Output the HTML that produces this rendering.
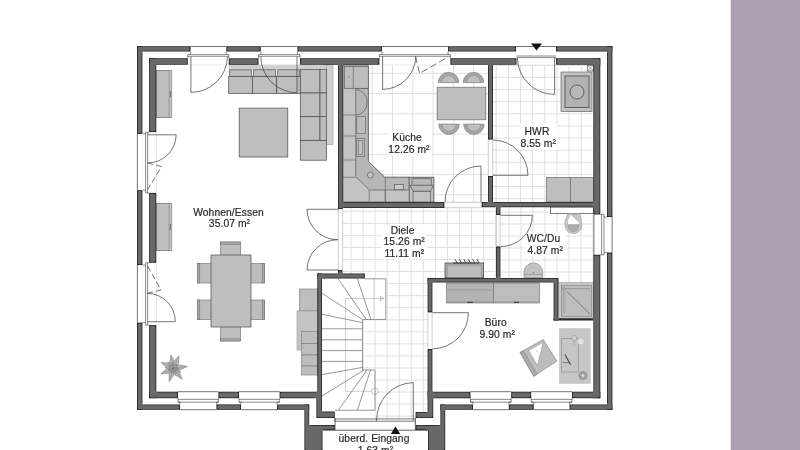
<!DOCTYPE html>
<html><head><meta charset="utf-8"><title>Grundriss</title>
<style>
html,body{margin:0;padding:0;background:#fff;}
body{width:800px;height:450px;overflow:hidden;font-family:"Liberation Sans",sans-serif;}
svg{display:block;position:absolute;left:0;top:0;}
</style></head><body>
<svg width="800" height="450" viewBox="0 0 800 450">
<rect x="0" y="0" width="800" height="450" fill="#ffffff"/>
<rect x="730.7" y="0" width="69.3" height="450" fill="#ada0b5"/>
<clipPath id="ck"><polygon points="343.00,65.00 488.00,65.00 488.00,202.00 343.00,202.00"/></clipPath>
<g clip-path="url(#ck)" stroke="#dcdcdc" stroke-width="0.9">
<line x1="351.90" y1="65" x2="351.90" y2="203"/>
<line x1="372.20" y1="65" x2="372.20" y2="203"/>
<line x1="392.50" y1="65" x2="392.50" y2="203"/>
<line x1="412.80" y1="65" x2="412.80" y2="203"/>
<line x1="433.10" y1="65" x2="433.10" y2="203"/>
<line x1="453.40" y1="65" x2="453.40" y2="203"/>
<line x1="473.70" y1="65" x2="473.70" y2="203"/>
<line x1="343" y1="73.30" x2="488" y2="73.30"/>
<line x1="343" y1="93.55" x2="488" y2="93.55"/>
<line x1="343" y1="113.80" x2="488" y2="113.80"/>
<line x1="343" y1="134.05" x2="488" y2="134.05"/>
<line x1="343" y1="154.30" x2="488" y2="154.30"/>
<line x1="343" y1="174.55" x2="488" y2="174.55"/>
<line x1="343" y1="194.80" x2="488" y2="194.80"/>
</g>
<clipPath id="ch"><polygon points="493.00,65.00 594.00,65.00 594.00,202.00 493.00,202.00"/></clipPath>
<g clip-path="url(#ch)" stroke="#dcdcdc" stroke-width="0.9">
<line x1="496.20" y1="65" x2="496.20" y2="203"/>
<line x1="508.35" y1="65" x2="508.35" y2="203"/>
<line x1="520.50" y1="65" x2="520.50" y2="203"/>
<line x1="532.65" y1="65" x2="532.65" y2="203"/>
<line x1="544.80" y1="65" x2="544.80" y2="203"/>
<line x1="556.95" y1="65" x2="556.95" y2="203"/>
<line x1="569.10" y1="65" x2="569.10" y2="203"/>
<line x1="581.25" y1="65" x2="581.25" y2="203"/>
<line x1="593.40" y1="65" x2="593.40" y2="203"/>
<line x1="493" y1="65.30" x2="594" y2="65.30"/>
<line x1="493" y1="77.42" x2="594" y2="77.42"/>
<line x1="493" y1="89.54" x2="594" y2="89.54"/>
<line x1="493" y1="101.66" x2="594" y2="101.66"/>
<line x1="493" y1="113.78" x2="594" y2="113.78"/>
<line x1="493" y1="125.90" x2="594" y2="125.90"/>
<line x1="493" y1="138.02" x2="594" y2="138.02"/>
<line x1="493" y1="150.14" x2="594" y2="150.14"/>
<line x1="493" y1="162.26" x2="594" y2="162.26"/>
<line x1="493" y1="174.38" x2="594" y2="174.38"/>
<line x1="493" y1="186.50" x2="594" y2="186.50"/>
<line x1="493" y1="198.62" x2="594" y2="198.62"/>
</g>
<clipPath id="cd"><polygon points="343.00,208.00 496.00,208.00 496.00,278.00 428.00,278.00 428.00,412.00 415.60,412.00 415.60,418.50 334.80,418.50 334.80,411.60 322.00,411.60 322.00,278.60 343.00,278.60"/></clipPath>
<g clip-path="url(#cd)" stroke="#dcdcdc" stroke-width="0.9">
<line x1="326.90" y1="208" x2="326.90" y2="419"/>
<line x1="338.95" y1="208" x2="338.95" y2="419"/>
<line x1="351.00" y1="208" x2="351.00" y2="419"/>
<line x1="363.05" y1="208" x2="363.05" y2="419"/>
<line x1="375.10" y1="208" x2="375.10" y2="419"/>
<line x1="387.15" y1="208" x2="387.15" y2="419"/>
<line x1="399.20" y1="208" x2="399.20" y2="419"/>
<line x1="411.25" y1="208" x2="411.25" y2="419"/>
<line x1="423.30" y1="208" x2="423.30" y2="419"/>
<line x1="435.35" y1="208" x2="435.35" y2="419"/>
<line x1="447.40" y1="208" x2="447.40" y2="419"/>
<line x1="459.45" y1="208" x2="459.45" y2="419"/>
<line x1="471.50" y1="208" x2="471.50" y2="419"/>
<line x1="483.55" y1="208" x2="483.55" y2="419"/>
<line x1="495.60" y1="208" x2="495.60" y2="419"/>
<line x1="322" y1="211.30" x2="497" y2="211.30"/>
<line x1="322" y1="223.35" x2="497" y2="223.35"/>
<line x1="322" y1="235.40" x2="497" y2="235.40"/>
<line x1="322" y1="247.45" x2="497" y2="247.45"/>
<line x1="322" y1="259.50" x2="497" y2="259.50"/>
<line x1="322" y1="271.55" x2="497" y2="271.55"/>
<line x1="322" y1="283.60" x2="497" y2="283.60"/>
<line x1="322" y1="295.65" x2="497" y2="295.65"/>
<line x1="322" y1="307.70" x2="497" y2="307.70"/>
<line x1="322" y1="319.75" x2="497" y2="319.75"/>
<line x1="322" y1="331.80" x2="497" y2="331.80"/>
<line x1="322" y1="343.85" x2="497" y2="343.85"/>
<line x1="322" y1="355.90" x2="497" y2="355.90"/>
<line x1="322" y1="367.95" x2="497" y2="367.95"/>
<line x1="322" y1="380.00" x2="497" y2="380.00"/>
<line x1="322" y1="392.05" x2="497" y2="392.05"/>
<line x1="322" y1="404.10" x2="497" y2="404.10"/>
<line x1="322" y1="416.15" x2="497" y2="416.15"/>
</g>
<clipPath id="cw"><polygon points="500.40,207.00 594.00,207.00 594.00,283.00 558.30,283.00 558.30,278.00 500.40,278.00"/></clipPath>
<g clip-path="url(#cw)" stroke="#dcdcdc" stroke-width="0.9">
<line x1="509.00" y1="207" x2="509.00" y2="284"/>
<line x1="521.00" y1="207" x2="521.00" y2="284"/>
<line x1="533.00" y1="207" x2="533.00" y2="284"/>
<line x1="545.00" y1="207" x2="545.00" y2="284"/>
<line x1="557.00" y1="207" x2="557.00" y2="284"/>
<line x1="569.00" y1="207" x2="569.00" y2="284"/>
<line x1="581.00" y1="207" x2="581.00" y2="284"/>
<line x1="593.00" y1="207" x2="593.00" y2="284"/>
<line x1="500" y1="212.00" x2="594" y2="212.00"/>
<line x1="500" y1="224.00" x2="594" y2="224.00"/>
<line x1="500" y1="236.00" x2="594" y2="236.00"/>
<line x1="500" y1="248.00" x2="594" y2="248.00"/>
<line x1="500" y1="260.00" x2="594" y2="260.00"/>
<line x1="500" y1="272.00" x2="594" y2="272.00"/>
</g>
<rect x="387.50" y="131.80" width="44.50" height="23.70" fill="#ffffff" />
<rect x="519.80" y="124.00" width="37.70" height="26.00" fill="#ffffff" />
<rect x="381.50" y="224.50" width="45.50" height="35.00" fill="#ffffff" />
<rect x="524.80" y="233.50" width="41.20" height="23.00" fill="#ffffff" />
<polygon points="322.00,278.60 385.80,278.60 385.80,319.50 362.50,319.50 362.50,370.00 375.00,370.00 375.00,418.50 334.80,418.50 334.80,411.60 322.00,411.60" fill="#ffffff" stroke="none" />
<path d="M383.4 298.5 L345.5 298.5 L345.5 391.4 L372 391.4" fill="none" stroke="#c4c4c4" stroke-width="0.8" />
<path d="M380.5 296.3 L383.8 298.5 L380.5 300.7 Z" fill="none" stroke="#9a9a9a" stroke-width="0.6" />
<circle cx="374.8" cy="391.3" r="3.2" fill="none" stroke="#b0b0b0" stroke-width="0.7"/>
<path d="M385.8 278.6 L385.8 319.5 L362.5 319.5 L362.5 370 L375 370 L375 410.3 L335 410.3" fill="none" stroke="#6a6a6a" stroke-width="0.7" />
<line x1="374.10" y1="278.60" x2="374.10" y2="319.50" stroke="#b4b4b4" stroke-width="0.7" />
<line x1="364.80" y1="278.80" x2="385.80" y2="278.80" stroke="#6a6a6a" stroke-width="0.7" />
<line x1="338.00" y1="278.60" x2="366.30" y2="319.50" stroke="#6a6a6a" stroke-width="0.7" />
<line x1="357.30" y1="278.60" x2="371.00" y2="319.50" stroke="#6a6a6a" stroke-width="0.7" />
<line x1="322.00" y1="293.30" x2="362.40" y2="319.50" stroke="#6a6a6a" stroke-width="0.7" />
<line x1="322.00" y1="314.30" x2="362.40" y2="322.60" stroke="#6a6a6a" stroke-width="0.7" />
<line x1="322.00" y1="328.80" x2="362.40" y2="328.80" stroke="#6a6a6a" stroke-width="0.7" />
<line x1="322.00" y1="339.80" x2="362.40" y2="339.80" stroke="#6a6a6a" stroke-width="0.7" />
<line x1="322.00" y1="350.60" x2="362.40" y2="350.60" stroke="#6a6a6a" stroke-width="0.7" />
<line x1="322.00" y1="361.40" x2="362.40" y2="361.40" stroke="#6a6a6a" stroke-width="0.7" />
<line x1="322.00" y1="374.60" x2="362.50" y2="367.40" stroke="#6a6a6a" stroke-width="0.7" />
<line x1="322.00" y1="396.00" x2="364.00" y2="370.00" stroke="#6a6a6a" stroke-width="0.7" />
<line x1="338.40" y1="410.30" x2="367.00" y2="370.00" stroke="#6a6a6a" stroke-width="0.7" />
<line x1="357.30" y1="410.30" x2="370.60" y2="370.00" stroke="#6a6a6a" stroke-width="0.7" />
<rect x="156.30" y="70.60" width="15.50" height="47.00" fill="#c6c6c6" stroke="#7a7a7a" stroke-width="0.6" />
<rect x="156.30" y="70.60" width="12.80" height="47.00" fill="#bebebe" stroke="#7a7a7a" stroke-width="0.6" />
<line x1="170.40" y1="91.10" x2="170.40" y2="97.10" stroke="#555" stroke-width="0.8" />
<rect x="156.30" y="203.60" width="15.50" height="47.00" fill="#c6c6c6" stroke="#7a7a7a" stroke-width="0.6" />
<rect x="156.30" y="203.60" width="12.80" height="47.00" fill="#bebebe" stroke="#7a7a7a" stroke-width="0.6" />
<line x1="170.40" y1="224.10" x2="170.40" y2="230.10" stroke="#555" stroke-width="0.8" />
<rect x="228.70" y="64.80" width="104.30" height="4.70" fill="#cfcfcf" />
<rect x="326.50" y="64.80" width="6.50" height="80.00" fill="#cfcfcf" stroke="#8a8a8a" stroke-width="0.5" />
<rect x="228.70" y="76.30" width="23.70" height="17.20" fill="#bebebe" stroke="#4a4a4a" stroke-width="0.7" />
<rect x="229.70" y="69.80" width="21.70" height="6.50" fill="#bebebe" stroke="#4a4a4a" stroke-width="0.7" />
<rect x="252.40" y="76.30" width="24.30" height="17.20" fill="#bebebe" stroke="#4a4a4a" stroke-width="0.7" />
<rect x="253.40" y="69.80" width="22.30" height="6.50" fill="#bebebe" stroke="#4a4a4a" stroke-width="0.7" />
<rect x="276.70" y="76.30" width="23.60" height="17.20" fill="#bebebe" stroke="#4a4a4a" stroke-width="0.7" />
<rect x="277.70" y="69.80" width="21.60" height="6.50" fill="#bebebe" stroke="#4a4a4a" stroke-width="0.7" />
<rect x="300.30" y="69.50" width="19.70" height="23.50" fill="#bebebe" stroke="#4a4a4a" stroke-width="0.7" />
<rect x="320.00" y="69.50" width="6.50" height="23.50" fill="#bebebe" stroke="#4a4a4a" stroke-width="0.7" />
<rect x="300.30" y="93.00" width="19.70" height="23.70" fill="#bebebe" stroke="#4a4a4a" stroke-width="0.7" />
<rect x="320.00" y="93.00" width="6.50" height="23.70" fill="#bebebe" stroke="#4a4a4a" stroke-width="0.7" />
<rect x="300.30" y="116.70" width="19.70" height="23.60" fill="#bebebe" stroke="#4a4a4a" stroke-width="0.7" />
<rect x="320.00" y="116.70" width="6.50" height="23.60" fill="#bebebe" stroke="#4a4a4a" stroke-width="0.7" />
<rect x="300.30" y="140.60" width="26.20" height="19.60" fill="#bebebe" stroke="#4a4a4a" stroke-width="0.7" />
<rect x="239.20" y="108.10" width="48.60" height="48.90" fill="#bebebe" stroke="#4a4a4a" stroke-width="0.7" />
<rect x="220.60" y="242.00" width="20.00" height="14.00" fill="#bebebe" stroke="#6a6a6a" stroke-width="0.6" />
<rect x="220.60" y="242.00" width="20.00" height="2.20" fill="#a8a8a8" stroke="#6a6a6a" stroke-width="0.5" />
<rect x="220.60" y="326.00" width="20.00" height="15.00" fill="#bebebe" stroke="#6a6a6a" stroke-width="0.6" />
<rect x="220.60" y="338.80" width="20.00" height="2.20" fill="#a8a8a8" stroke="#6a6a6a" stroke-width="0.5" />
<rect x="197.60" y="263.60" width="14.40" height="19.40" fill="#bebebe" stroke="#6a6a6a" stroke-width="0.6" />
<rect x="197.60" y="263.60" width="2.20" height="19.40" fill="#a8a8a8" stroke="#6a6a6a" stroke-width="0.5" />
<rect x="197.60" y="300.00" width="14.40" height="19.60" fill="#bebebe" stroke="#6a6a6a" stroke-width="0.6" />
<rect x="197.60" y="300.00" width="2.20" height="19.60" fill="#a8a8a8" stroke="#6a6a6a" stroke-width="0.5" />
<rect x="250.00" y="263.60" width="14.40" height="19.40" fill="#bebebe" stroke="#6a6a6a" stroke-width="0.6" />
<rect x="262.20" y="263.60" width="2.20" height="19.40" fill="#a8a8a8" stroke="#6a6a6a" stroke-width="0.5" />
<rect x="250.00" y="300.00" width="14.40" height="19.60" fill="#bebebe" stroke="#6a6a6a" stroke-width="0.6" />
<rect x="262.20" y="300.00" width="2.20" height="19.60" fill="#a8a8a8" stroke="#6a6a6a" stroke-width="0.5" />
<rect x="211.00" y="255.00" width="40.00" height="72.00" fill="#bebebe" stroke="#4a4a4a" stroke-width="0.7" />
<rect x="299.40" y="289.00" width="17.90" height="22.00" fill="#bebebe" stroke="#777" stroke-width="0.6" />
<rect x="297.00" y="311.00" width="20.30" height="39.00" fill="#c4c4c4" stroke="#8a8a8a" stroke-width="0.5" />
<rect x="301.60" y="331.60" width="15.70" height="12.00" fill="#bebebe" stroke="#777" stroke-width="0.6" />
<rect x="301.60" y="343.60" width="15.70" height="11.40" fill="#bebebe" stroke="#777" stroke-width="0.6" />
<rect x="301.60" y="355.00" width="15.70" height="11.00" fill="#bebebe" stroke="#777" stroke-width="0.6" />
<rect x="301.60" y="366.00" width="15.70" height="9.00" fill="#bebebe" stroke="#777" stroke-width="0.6" />
<polygon points="173.30,368.20 175.60,371.96 180.76,372.28 177.71,368.10" fill="#c2c2c2" stroke="#8a8a8a" stroke-width="0.5" />
<line x1="173.30" y1="368.20" x2="180.76" y2="372.28" stroke="#8a8a8a" stroke-width="0.4" />
<polygon points="173.30,368.20 172.64,372.56 176.39,376.12 176.74,370.96" fill="#c2c2c2" stroke="#8a8a8a" stroke-width="0.5" />
<line x1="173.30" y1="368.20" x2="176.39" y2="376.12" stroke="#8a8a8a" stroke-width="0.4" />
<polygon points="173.30,368.20 169.99,371.12 170.58,376.25 174.16,372.53" fill="#c2c2c2" stroke="#8a8a8a" stroke-width="0.5" />
<line x1="173.30" y1="368.20" x2="170.58" y2="376.25" stroke="#8a8a8a" stroke-width="0.4" />
<polygon points="173.30,368.20 168.89,368.31 166.04,372.62 171.18,372.07" fill="#c2c2c2" stroke="#8a8a8a" stroke-width="0.5" />
<line x1="173.30" y1="368.20" x2="166.04" y2="372.62" stroke="#8a8a8a" stroke-width="0.4" />
<polygon points="173.30,368.20 169.85,365.45 164.90,366.92 169.19,369.80" fill="#c2c2c2" stroke="#8a8a8a" stroke-width="0.5" />
<line x1="173.30" y1="368.20" x2="164.90" y2="366.92" stroke="#8a8a8a" stroke-width="0.4" />
<polygon points="173.30,368.20 172.42,363.88 167.68,361.82 169.12,366.78" fill="#c2c2c2" stroke="#8a8a8a" stroke-width="0.5" />
<line x1="173.30" y1="368.20" x2="167.68" y2="361.82" stroke="#8a8a8a" stroke-width="0.4" />
<polygon points="173.30,368.20 175.41,364.32 173.10,359.70 171.01,364.43" fill="#c2c2c2" stroke="#8a8a8a" stroke-width="0.5" />
<line x1="173.30" y1="368.20" x2="173.10" y2="359.70" stroke="#8a8a8a" stroke-width="0.4" />
<polygon points="173.30,368.20 177.41,366.59 178.61,361.56 173.97,363.84" fill="#c2c2c2" stroke="#8a8a8a" stroke-width="0.5" />
<line x1="173.30" y1="368.20" x2="178.61" y2="361.56" stroke="#8a8a8a" stroke-width="0.4" />
<polygon points="173.30,368.20 177.48,369.60 181.63,366.53 176.62,365.29" fill="#c2c2c2" stroke="#8a8a8a" stroke-width="0.5" />
<line x1="173.30" y1="368.20" x2="181.63" y2="366.53" stroke="#8a8a8a" stroke-width="0.4" />
<polygon points="173.30,368.20 174.83,361.77 171.00,354.90 169.70,362.66" fill="#b6b6b6" stroke="#7c7c7c" stroke-width="0.5" />
<line x1="173.30" y1="368.20" x2="171.00" y2="354.90" stroke="#7c7c7c" stroke-width="0.4" />
<polygon points="173.30,368.20 178.23,363.71 179.00,355.80 173.50,361.53" fill="#b6b6b6" stroke="#7c7c7c" stroke-width="0.5" />
<line x1="173.30" y1="368.20" x2="179.00" y2="355.80" stroke="#7c7c7c" stroke-width="0.4" />
<polygon points="173.30,368.20 179.97,369.97 187.40,366.40 179.32,364.81" fill="#b6b6b6" stroke="#7c7c7c" stroke-width="0.5" />
<line x1="173.30" y1="368.20" x2="187.40" y2="366.40" stroke="#7c7c7c" stroke-width="0.4" />
<polygon points="173.30,368.20 175.22,374.81 182.10,379.30 179.30,371.58" fill="#b6b6b6" stroke="#7c7c7c" stroke-width="0.5" />
<line x1="173.30" y1="368.20" x2="182.10" y2="379.30" stroke="#7c7c7c" stroke-width="0.4" />
<polygon points="173.30,368.20 168.97,373.47 169.20,381.60 173.94,374.99" fill="#b6b6b6" stroke="#7c7c7c" stroke-width="0.5" />
<line x1="173.30" y1="368.20" x2="169.20" y2="381.60" stroke="#7c7c7c" stroke-width="0.4" />
<polygon points="173.30,368.20 166.58,368.45 160.80,374.00 168.77,373.17" fill="#b6b6b6" stroke="#7c7c7c" stroke-width="0.5" />
<line x1="173.30" y1="368.20" x2="160.80" y2="374.00" stroke="#7c7c7c" stroke-width="0.4" />
<polygon points="173.30,368.20 168.98,363.25 161.20,362.40 166.73,367.93" fill="#b6b6b6" stroke="#7c7c7c" stroke-width="0.5" />
<line x1="173.30" y1="368.20" x2="161.20" y2="362.40" stroke="#7c7c7c" stroke-width="0.4" />
<polygon points="173.30,368.20 175.60,370.04 178.77,368.75 175.92,366.86" fill="#a4a4a4" stroke="#777" stroke-width="0.5" />
<line x1="173.30" y1="368.20" x2="178.77" y2="368.75" stroke="#777" stroke-width="0.4" />
<polygon points="173.30,368.20 173.30,371.15 176.28,372.82 175.99,369.41" fill="#a4a4a4" stroke="#777" stroke-width="0.5" />
<line x1="173.30" y1="368.20" x2="176.28" y2="372.82" stroke="#777" stroke-width="0.4" />
<polygon points="173.30,368.20 170.99,370.04 171.55,373.41 174.03,371.06" fill="#a4a4a4" stroke="#777" stroke-width="0.5" />
<line x1="173.30" y1="368.20" x2="171.55" y2="373.41" stroke="#777" stroke-width="0.4" />
<polygon points="173.30,368.20 170.43,367.54 168.13,370.08 171.52,370.55" fill="#a4a4a4" stroke="#777" stroke-width="0.5" />
<line x1="173.30" y1="368.20" x2="168.13" y2="370.08" stroke="#777" stroke-width="0.4" />
<polygon points="173.30,368.20 172.02,365.54 168.61,365.33 170.35,368.27" fill="#a4a4a4" stroke="#777" stroke-width="0.5" />
<line x1="173.30" y1="368.20" x2="168.61" y2="365.33" stroke="#777" stroke-width="0.4" />
<polygon points="173.30,368.20 174.58,365.55 172.62,362.74 171.41,365.94" fill="#a4a4a4" stroke="#777" stroke-width="0.5" />
<line x1="173.30" y1="368.20" x2="172.62" y2="362.74" stroke="#777" stroke-width="0.4" />
<polygon points="173.30,368.20 176.17,367.55 177.14,364.26 173.88,365.31" fill="#a4a4a4" stroke="#777" stroke-width="0.5" />
<line x1="173.30" y1="368.20" x2="177.14" y2="364.26" stroke="#777" stroke-width="0.4" />
<polygon points="343.00,65.00 368.30,65.00 368.30,161.30 384.70,177.30 433.80,177.30 433.80,202.00 343.00,202.00" fill="#c3c3c3" stroke="#5a5a5a" stroke-width="0.7" />
<polygon points="355.80,88.30 368.30,88.30 368.30,161.30 384.70,177.30 409.30,177.30 409.30,190.00 369.30,190.00 355.80,176.70" fill="#b7b7b7" stroke="#5a5a5a" stroke-width="0.7" />
<rect x="344.30" y="66.70" width="24.00" height="21.60" fill="#bdbdbd" stroke="#5a5a5a" stroke-width="0.7" />
<line x1="353.30" y1="66.70" x2="353.30" y2="88.30" stroke="#5a5a5a" stroke-width="0.6" />
<circle cx="349" cy="77" r="0.7" fill="#888"/>
<line x1="343.00" y1="115.00" x2="355.80" y2="115.00" stroke="#5a5a5a" stroke-width="0.6" />
<line x1="343.00" y1="136.00" x2="355.80" y2="136.00" stroke="#5a5a5a" stroke-width="0.6" />
<line x1="343.00" y1="160.00" x2="355.80" y2="160.00" stroke="#5a5a5a" stroke-width="0.6" />
<line x1="343.00" y1="177.30" x2="355.80" y2="177.30" stroke="#5a5a5a" stroke-width="0.6" />
<line x1="369.30" y1="190.00" x2="369.30" y2="202.00" stroke="#5a5a5a" stroke-width="0.6" />
<line x1="385.30" y1="190.00" x2="385.30" y2="202.00" stroke="#5a5a5a" stroke-width="0.6" />
<line x1="385.30" y1="177.30" x2="385.30" y2="202.00" stroke="#5a5a5a" stroke-width="0.6" />
<line x1="409.30" y1="177.30" x2="409.30" y2="202.00" stroke="#5a5a5a" stroke-width="0.7" />
<path d="M355.8 89.6 A11.4 12.7 0 0 1 355.8 115" fill="none" stroke="#5a5a5a" stroke-width="0.7" />
<rect x="356.80" y="116.70" width="8.70" height="16.60" fill="#bdbdbd" stroke="#5a5a5a" stroke-width="0.6" />
<rect x="356.80" y="138.30" width="7.50" height="18.40" fill="#bdbdbd" stroke="#5a5a5a" stroke-width="0.6" />
<rect x="358.30" y="140.30" width="4.00" height="14.40" fill="#c3c3c3" stroke="#5a5a5a" stroke-width="0.5" />
<circle cx="370.4" cy="175" r="3" fill="#c3c3c3" stroke="#5a5a5a" stroke-width="0.7"/>
<rect x="394.40" y="184.40" width="8.90" height="5.30" fill="#c9c9c9" stroke="#5a5a5a" stroke-width="0.7" />
<rect x="409.30" y="177.30" width="24.50" height="24.70" fill="#c3c3c3" stroke="#5a5a5a" stroke-width="0.7" />
<rect x="412.00" y="178.70" width="19.30" height="6.60" fill="#b7b7b7" stroke="#5a5a5a" stroke-width="0.7" />
<polygon points="410.00,185.30 433.30,185.30 430.70,191.30 413.00,191.30" fill="#b7b7b7" stroke="#5a5a5a" stroke-width="0.7" />
<rect x="413.00" y="191.30" width="17.70" height="10.70" fill="#c3c3c3" stroke="#5a5a5a" stroke-width="0.7" />
<path d="M438.30 82.60 A10.3 10.3 0 0 1 458.90 82.60 Z" fill="#a6a6a6" stroke="#7a7a7a" stroke-width="0.6" />
<path d="M441.60 82.60 A7 7 0 0 1 455.60 82.60 Z" fill="#c0c0c0" stroke="#8a8a8a" stroke-width="0.6" />
<path d="M463.20 82.60 A10.3 10.3 0 0 1 483.80 82.60 Z" fill="#a6a6a6" stroke="#7a7a7a" stroke-width="0.6" />
<path d="M466.50 82.60 A7 7 0 0 1 480.50 82.60 Z" fill="#c0c0c0" stroke="#8a8a8a" stroke-width="0.6" />
<path d="M438.70 124.20 A10.3 10.3 0 0 0 459.30 124.20 Z" fill="#a6a6a6" stroke="#7a7a7a" stroke-width="0.6" />
<path d="M442.00 124.20 A7 7 0 0 0 456.00 124.20 Z" fill="#c0c0c0" stroke="#8a8a8a" stroke-width="0.6" />
<path d="M463.60 124.20 A10.3 10.3 0 0 0 484.20 124.20 Z" fill="#a6a6a6" stroke="#7a7a7a" stroke-width="0.6" />
<path d="M466.90 124.20 A7 7 0 0 0 480.90 124.20 Z" fill="#c0c0c0" stroke="#8a8a8a" stroke-width="0.6" />
<rect x="437.10" y="87.20" width="48.70" height="32.60" fill="#bebebe" stroke="#6a6a6a" stroke-width="0.7" />
<rect x="561.00" y="72.00" width="31.00" height="39.60" fill="#c2c2c2" stroke="#6a6a6a" stroke-width="0.7" />
<rect x="565.00" y="76.00" width="24.00" height="31.60" fill="#b2b2b2" stroke="#4a4a4a" stroke-width="0.8" />
<circle cx="577" cy="92" r="7" fill="#b8b8b8" stroke="#3a3a3a" stroke-width="0.7"/>
<rect x="587.60" y="65.30" width="5.60" height="5.70" fill="#ffffff" stroke="#444" stroke-width="0.6" />
<line x1="587.60" y1="65.30" x2="593.20" y2="71.00" stroke="#444" stroke-width="0.5" />
<line x1="593.20" y1="65.30" x2="587.60" y2="71.00" stroke="#444" stroke-width="0.5" />
<rect x="546.40" y="177.60" width="24.00" height="24.40" fill="#bebebe" stroke="#6a6a6a" stroke-width="0.7" />
<rect x="570.40" y="177.60" width="23.20" height="24.40" fill="#bebebe" stroke="#6a6a6a" stroke-width="0.7" />
<rect x="445.00" y="263.00" width="38.60" height="14.60" fill="#b4b4b4" stroke="#4a4a4a" stroke-width="0.8" />
<rect x="447.00" y="265.00" width="34.60" height="12.60" fill="#bdbdbd" stroke="#6a6a6a" stroke-width="0.5" />
<line x1="455.00" y1="259.30" x2="457.20" y2="263.00" stroke="#333" stroke-width="0.9" />
<line x1="459.40" y1="259.30" x2="461.60" y2="263.00" stroke="#333" stroke-width="0.9" />
<line x1="463.80" y1="259.30" x2="466.00" y2="263.00" stroke="#333" stroke-width="0.9" />
<line x1="468.20" y1="259.30" x2="470.40" y2="263.00" stroke="#333" stroke-width="0.9" />
<line x1="472.60" y1="259.30" x2="474.80" y2="263.00" stroke="#333" stroke-width="0.9" />
<line x1="477.00" y1="259.30" x2="479.20" y2="263.00" stroke="#333" stroke-width="0.9" />
<line x1="453.00" y1="263.00" x2="479.00" y2="263.00" stroke="#333" stroke-width="0.9" />
<rect x="550.40" y="207.00" width="43.20" height="6.40" fill="#ffffff" stroke="#4a4a4a" stroke-width="0.7" />
<path d="M568 213.7 C565 219 564.5 224 565.2 227 C566 231.5 570 233.5 573.4 233.5 C577 233.5 581 231.5 581.6 227 C582.2 224 581.5 219 579.5 213.7 Z" fill="#c8c8c8" stroke="#9a9a9a" stroke-width="0.6" />
<path d="M570 215 C567.8 219.5 567.3 223 567.6 224.8 L579.2 224.8 C579.5 223 578.5 218 577.2 215 Z" fill="#ffffff" stroke="#a8a8a8" stroke-width="0.4" />
<path d="M571 215 L577.2 215 L579.2 223 Z" fill="#c4c4c4" stroke="none" stroke-width="0" />
<path d="M567.6 224.8 L579.2 224.8 C579.2 228.5 577 231.6 573.4 231.6 C569.8 231.6 567.6 228.5 567.6 224.8 Z" fill="#adadad" stroke="#909090" stroke-width="0.4" />
<path d="M524 277.6 L524 272.3 A9.35 9.35 0 0 1 542.7 272.3 L542.7 277.6 Z" fill="#c4c4c4" stroke="#8a8a8a" stroke-width="0.7" />
<path d="M526.5 274.3 A6.9 7.4 0 0 1 540.3 274.3" fill="none" stroke="#b0b0b0" stroke-width="0.5" />
<line x1="524.40" y1="274.40" x2="542.30" y2="274.40" stroke="#8f8f8f" stroke-width="0.7" />
<circle cx="533.5" cy="272.6" r="0.7" fill="#777"/>
<rect x="558.30" y="282.60" width="35.30" height="35.70" fill="#c9c9c9" stroke="#8a8a8a" stroke-width="0.5" />
<rect x="561.40" y="285.20" width="30.40" height="31.40" fill="#bdbdbd" stroke="#7a7a7a" stroke-width="0.6" />
<circle cx="564" cy="288.7" r="1.2" fill="none" stroke="#6a6a6a" stroke-width="0.6"/>
<line x1="566.00" y1="288.70" x2="590.00" y2="288.70" stroke="#7a7a7a" stroke-width="0.6" />
<line x1="564.00" y1="291.00" x2="564.00" y2="313.50" stroke="#7a7a7a" stroke-width="0.6" />
<line x1="566.90" y1="291.50" x2="590.20" y2="314.30" stroke="#6a6a6a" stroke-width="0.8" />
<rect x="446.60" y="283.00" width="47.00" height="20.00" fill="#b4b4b4" stroke="#6a6a6a" stroke-width="0.6" />
<rect x="493.60" y="283.00" width="46.00" height="20.00" fill="#bdbdbd" stroke="#6a6a6a" stroke-width="0.6" />
<line x1="446.60" y1="290.00" x2="493.60" y2="290.00" stroke="#8a8a8a" stroke-width="0.6" />
<line x1="446.60" y1="301.60" x2="539.60" y2="301.60" stroke="#8a8a8a" stroke-width="0.5" />
<line x1="467.00" y1="302.40" x2="473.00" y2="302.40" stroke="#333" stroke-width="1" />
<line x1="514.00" y1="302.40" x2="519.00" y2="302.40" stroke="#333" stroke-width="1" />
<rect x="559.10" y="328.20" width="31.60" height="55.60" fill="#c6c6c6" />
<rect x="561.50" y="338.70" width="16.80" height="33.30" fill="none" stroke="#8a8a8a" stroke-width="0.6" />
<circle cx="580.8" cy="341.6" r="3" fill="#e2e2e2"/>
<circle cx="574.2" cy="338" r="2.4" fill="#d8d8d8" stroke="#8a8a8a" stroke-width="0.6"/>
<line x1="574.20" y1="340.00" x2="574.20" y2="345.50" stroke="#9a9a9a" stroke-width="0.7" />
<line x1="564.90" y1="354.60" x2="570.60" y2="364.70" stroke="#444" stroke-width="1.1" />
<line x1="562.70" y1="362.60" x2="570.00" y2="362.60" stroke="#555" stroke-width="0.7" />
<circle cx="582.9" cy="375.6" r="4" fill="#a8a8a8" stroke="#777" stroke-width="0.6"/>
<circle cx="582.9" cy="375.6" r="1.8" fill="#e8e8e8" stroke="#777" stroke-width="0.5"/>
<polygon points="543.20,339.50 556.90,361.10 533.80,376.30 520.10,352.50" fill="#bdbdbd" stroke="#7a7a7a" stroke-width="0.6" />
<polygon points="520.10,352.50 523.33,350.68 537.03,374.17 533.80,376.30" fill="#ababab" stroke="#7a7a7a" stroke-width="0.5" />
<polygon points="528.70,350.30 543.20,342.30 537.40,365.50" fill="#ffffff" stroke="#8a8a8a" stroke-width="0.5" />
<circle cx="537" cy="351" r="0.6" fill="#999"/>
<filter id="wf" x="0" y="0" width="800" height="450" filterUnits="userSpaceOnUse" color-interpolation-filters="sRGB"><feGaussianBlur in="SourceAlpha" stdDeviation="0.8" result="b"/><feComponentTransfer in="b" result="e"><feFuncA type="linear" slope="4" intercept="-2.45"/></feComponentTransfer><feFlood flood-color="#686868" result="c"/><feComposite in="c" in2="e" operator="in" result="inner"/><feMerge><feMergeNode in="SourceGraphic"/><feMergeNode in="inner"/></feMerge></filter>
<g filter="url(#wf)">
<polygon points="137.00,46.20 190.60,46.20 190.60,51.60 137.00,51.60" fill="#262626" stroke="none" />
<polygon points="226.30,46.20 260.80,46.20 260.80,51.60 226.30,51.60" fill="#262626" stroke="none" />
<polygon points="297.40,46.20 382.00,46.20 382.00,51.60 297.40,51.60" fill="#262626" stroke="none" />
<polygon points="448.00,46.20 516.00,46.20 516.00,51.60 448.00,51.60" fill="#262626" stroke="none" />
<polygon points="556.00,46.20 612.40,46.20 612.40,51.60 556.00,51.60" fill="#262626" stroke="none" />
<polygon points="137.00,46.20 142.40,46.20 142.40,133.90 137.00,133.90" fill="#262626" stroke="none" />
<polygon points="137.00,190.20 142.40,190.20 142.40,265.10 137.00,265.10" fill="#262626" stroke="none" />
<polygon points="137.00,322.60 142.40,322.60 142.40,409.80 137.00,409.80" fill="#262626" stroke="none" />
<polygon points="607.00,46.20 612.40,46.20 612.40,217.00 607.00,217.00" fill="#262626" stroke="none" />
<polygon points="607.00,252.40 612.40,252.40 612.40,409.80 607.00,409.80" fill="#262626" stroke="none" />
<polygon points="137.00,404.40 180.00,404.40 180.00,409.80 137.00,409.80" fill="#262626" stroke="none" />
<polygon points="216.40,404.40 241.00,404.40 241.00,409.80 216.40,409.80" fill="#262626" stroke="none" />
<polygon points="277.00,404.40 309.20,404.40 309.20,409.80 277.00,409.80" fill="#262626" stroke="none" />
<polygon points="440.40,404.40 473.00,404.40 473.00,409.80 440.40,409.80" fill="#262626" stroke="none" />
<polygon points="508.80,404.40 533.80,404.40 533.80,409.80 508.80,409.80" fill="#262626" stroke="none" />
<polygon points="569.50,404.40 612.40,404.40 612.40,409.80 569.50,409.80" fill="#262626" stroke="none" />
<polygon points="304.40,404.40 309.20,404.40 309.20,425.00 334.80,425.00 334.80,430.00 322.50,430.00 322.50,451.00 304.40,451.00" fill="#262626" stroke="none" />
<polygon points="445.20,404.40 440.40,404.40 440.40,425.00 415.60,425.00 415.60,430.00 428.00,430.00 428.00,451.00 445.20,451.00" fill="#262626" stroke="none" />
<polygon points="149.10,58.30 187.80,58.30 187.80,64.80 149.10,64.80" fill="#262626" stroke="none" />
<polygon points="228.80,58.30 258.50,58.30 258.50,64.80 228.80,64.80" fill="#262626" stroke="none" />
<polygon points="300.00,58.30 379.40,58.30 379.40,64.80 300.00,64.80" fill="#262626" stroke="none" />
<polygon points="450.40,58.30 516.50,58.30 516.50,64.80 450.40,64.80" fill="#262626" stroke="none" />
<polygon points="556.00,58.30 600.30,58.30 600.30,64.80 556.00,64.80" fill="#262626" stroke="none" />
<polygon points="149.10,58.30 156.30,58.30 156.30,132.10 149.10,132.10" fill="#262626" stroke="none" />
<polygon points="149.10,192.90 156.30,192.90 156.30,262.80 149.10,262.80" fill="#262626" stroke="none" />
<polygon points="149.10,325.10 156.30,325.10 156.30,398.20 149.10,398.20" fill="#262626" stroke="none" />
<polygon points="593.40,58.30 600.30,58.30 600.30,214.40 593.40,214.40" fill="#262626" stroke="none" />
<polygon points="593.40,254.80 600.30,254.80 600.30,398.20 593.40,398.20" fill="#262626" stroke="none" />
<polygon points="149.10,391.70 178.00,391.70 178.00,398.20 149.10,398.20" fill="#262626" stroke="none" />
<polygon points="218.40,391.70 239.00,391.70 239.00,398.20 218.40,398.20" fill="#262626" stroke="none" />
<polygon points="279.60,391.70 322.00,391.70 322.00,398.20 279.60,398.20" fill="#262626" stroke="none" />
<polygon points="427.60,391.70 470.50,391.70 470.50,398.20 427.60,398.20" fill="#262626" stroke="none" />
<polygon points="511.20,391.70 531.20,391.70 531.20,398.20 511.20,398.20" fill="#262626" stroke="none" />
<polygon points="572.00,391.70 600.30,391.70 600.30,398.20 572.00,398.20" fill="#262626" stroke="none" />
<polygon points="316.40,391.70 322.00,391.70 322.00,411.60 334.80,411.60 334.80,418.00 316.40,418.00" fill="#262626" stroke="none" />
<polygon points="433.20,391.70 427.60,391.70 427.60,412.00 415.60,412.00 415.60,418.00 433.20,418.00" fill="#262626" stroke="none" />
<polygon points="338.00,64.80 342.80,64.80 342.80,209.00 338.00,209.00" fill="#262626" stroke="none" />
<polygon points="338.00,202.00 444.40,202.00 444.40,208.00 338.00,208.00" fill="#262626" stroke="none" />
<polygon points="481.60,202.00 593.70,202.00 593.70,207.20 481.60,207.20" fill="#262626" stroke="none" />
<polygon points="488.00,64.80 493.00,64.80 493.00,139.60 488.00,139.60" fill="#262626" stroke="none" />
<polygon points="488.00,176.00 493.00,176.00 493.00,202.00 488.00,202.00" fill="#262626" stroke="none" />
<polygon points="496.00,207.00 500.40,207.00 500.40,215.00 496.00,215.00" fill="#262626" stroke="none" />
<polygon points="496.00,246.40 500.40,246.40 500.40,278.00 496.00,278.00" fill="#262626" stroke="none" />
<polygon points="427.60,278.00 558.30,278.00 558.30,282.60 427.60,282.60" fill="#262626" stroke="none" />
<polygon points="427.60,278.00 432.40,278.00 432.40,312.40 427.60,312.40" fill="#262626" stroke="none" />
<polygon points="427.60,349.00 432.40,349.00 432.40,392.00 427.60,392.00" fill="#262626" stroke="none" />
<polygon points="553.60,278.00 558.30,278.00 558.30,320.50 553.60,320.50" fill="#262626" stroke="none" />
<polygon points="553.60,318.30 593.70,318.30 593.70,320.50 553.60,320.50" fill="#262626" stroke="none" />
<polygon points="317.30,273.40 364.80,273.40 364.80,278.60 317.30,278.60" fill="#262626" stroke="none" />
<polygon points="338.00,270.00 342.40,270.00 342.40,274.00 338.00,274.00" fill="#262626" stroke="none" />
<polygon points="317.30,273.40 322.00,273.40 322.00,398.00 317.30,398.00" fill="#262626" stroke="none" />
</g>
<line x1="190.60" y1="46.50" x2="226.30" y2="46.50" stroke="#3a3a3a" stroke-width="0.7" />
<path d="M190.6 51.8 L190.6 54.6 L187.8 54.6 L187.8 58.3" fill="none" stroke="#3a3a3a" stroke-width="0.6" />
<path d="M226.3 51.8 L226.3 54.6 L228.8 54.6 L228.8 58.3" fill="none" stroke="#3a3a3a" stroke-width="0.6" />
<line x1="190.60" y1="54.60" x2="226.30" y2="54.60" stroke="#3a3a3a" stroke-width="0.6" />
<line x1="187.80" y1="56.30" x2="228.80" y2="56.30" stroke="#3a3a3a" stroke-width="0.6" />
<line x1="187.80" y1="65.00" x2="228.80" y2="65.00" stroke="#dcdcdc" stroke-width="0.6" />
<line x1="260.80" y1="46.50" x2="297.40" y2="46.50" stroke="#3a3a3a" stroke-width="0.7" />
<path d="M260.8 51.8 L260.8 54.6 L258.5 54.6 L258.5 58.3" fill="none" stroke="#3a3a3a" stroke-width="0.6" />
<path d="M297.4 51.8 L297.4 54.6 L300 54.6 L300 58.3" fill="none" stroke="#3a3a3a" stroke-width="0.6" />
<line x1="260.80" y1="54.60" x2="297.40" y2="54.60" stroke="#3a3a3a" stroke-width="0.6" />
<line x1="258.50" y1="56.30" x2="300.00" y2="56.30" stroke="#3a3a3a" stroke-width="0.6" />
<line x1="258.50" y1="65.00" x2="300.00" y2="65.00" stroke="#dcdcdc" stroke-width="0.6" />
<line x1="382.00" y1="46.50" x2="448.00" y2="46.50" stroke="#3a3a3a" stroke-width="0.7" />
<path d="M382 51.8 L382 54.6 L379.4 54.6 L379.4 58.3" fill="none" stroke="#3a3a3a" stroke-width="0.6" />
<path d="M448 51.8 L448 54.6 L450.4 54.6 L450.4 58.3" fill="none" stroke="#3a3a3a" stroke-width="0.6" />
<line x1="382.00" y1="54.60" x2="448.00" y2="54.60" stroke="#3a3a3a" stroke-width="0.6" />
<line x1="379.40" y1="56.30" x2="450.40" y2="56.30" stroke="#3a3a3a" stroke-width="0.6" />
<line x1="379.40" y1="65.00" x2="450.40" y2="65.00" stroke="#dcdcdc" stroke-width="0.6" />
<line x1="516.00" y1="46.50" x2="556.00" y2="46.50" stroke="#3a3a3a" stroke-width="0.7" />
<line x1="516.50" y1="56.00" x2="556.00" y2="56.00" stroke="#3a3a3a" stroke-width="0.6" />
<line x1="516.50" y1="57.60" x2="556.00" y2="57.60" stroke="#3a3a3a" stroke-width="0.6" />
<line x1="516.50" y1="65.00" x2="556.00" y2="65.00" stroke="#dcdcdc" stroke-width="0.6" />
<path d="M190.9 56.3 L190.9 92.4 A36.6 36.6 0 0 0 227.5 56.6" fill="none" stroke="#3a3a3a" stroke-width="0.7" />
<path d="M297.0 56.3 L297.0 92.8 A36.4 36.4 0 0 1 260.8 56.6" fill="none" stroke="#3a3a3a" stroke-width="0.7" />
<path d="M382.6 56.3 L382.6 89.4 A33.4 33.4 0 0 0 415.8 56.6" fill="none" stroke="#3a3a3a" stroke-width="0.7" />
<path d="M415.5 56.3 L419.6 73.4 L448 57" fill="none" stroke="#3a3a3a" stroke-width="0.7" stroke-dasharray="7 3"/>
<path d="M554.6 57.6 L554.6 94.4 A37 37 0 0 1 517.4 57.8" fill="none" stroke="#3a3a3a" stroke-width="0.7" />
<polygon points="531.00,43.40 542.00,43.40 536.50,50.60" fill="#111" stroke="none" />
<line x1="178.00" y1="391.70" x2="218.40" y2="391.70" stroke="#3a3a3a" stroke-width="0.7" />
<line x1="180.00" y1="409.70" x2="216.40" y2="409.70" stroke="#3a3a3a" stroke-width="0.7" />
<path d="M178 398.2 L178 402.2 L180 402.2 L180 404.4" fill="none" stroke="#3a3a3a" stroke-width="0.6" />
<path d="M218.4 398.2 L218.4 402.2 L216.4 402.2 L216.4 404.4" fill="none" stroke="#3a3a3a" stroke-width="0.6" />
<line x1="178.00" y1="399.40" x2="218.40" y2="399.40" stroke="#3a3a3a" stroke-width="0.6" />
<line x1="178.00" y1="402.20" x2="218.40" y2="402.20" stroke="#3a3a3a" stroke-width="0.6" />
<line x1="239.00" y1="391.70" x2="279.60" y2="391.70" stroke="#3a3a3a" stroke-width="0.7" />
<line x1="241.00" y1="409.70" x2="277.00" y2="409.70" stroke="#3a3a3a" stroke-width="0.7" />
<path d="M239 398.2 L239 402.2 L241 402.2 L241 404.4" fill="none" stroke="#3a3a3a" stroke-width="0.6" />
<path d="M279.6 398.2 L279.6 402.2 L277 402.2 L277 404.4" fill="none" stroke="#3a3a3a" stroke-width="0.6" />
<line x1="239.00" y1="399.40" x2="279.60" y2="399.40" stroke="#3a3a3a" stroke-width="0.6" />
<line x1="239.00" y1="402.20" x2="279.60" y2="402.20" stroke="#3a3a3a" stroke-width="0.6" />
<line x1="470.50" y1="391.70" x2="511.20" y2="391.70" stroke="#3a3a3a" stroke-width="0.7" />
<line x1="473.00" y1="409.70" x2="508.80" y2="409.70" stroke="#3a3a3a" stroke-width="0.7" />
<path d="M470.5 398.2 L470.5 402.2 L473 402.2 L473 404.4" fill="none" stroke="#3a3a3a" stroke-width="0.6" />
<path d="M511.2 398.2 L511.2 402.2 L508.8 402.2 L508.8 404.4" fill="none" stroke="#3a3a3a" stroke-width="0.6" />
<line x1="470.50" y1="399.40" x2="511.20" y2="399.40" stroke="#3a3a3a" stroke-width="0.6" />
<line x1="470.50" y1="402.20" x2="511.20" y2="402.20" stroke="#3a3a3a" stroke-width="0.6" />
<line x1="531.20" y1="391.70" x2="572.00" y2="391.70" stroke="#3a3a3a" stroke-width="0.7" />
<line x1="533.80" y1="409.70" x2="569.50" y2="409.70" stroke="#3a3a3a" stroke-width="0.7" />
<path d="M531.2 398.2 L531.2 402.2 L533.8 402.2 L533.8 404.4" fill="none" stroke="#3a3a3a" stroke-width="0.6" />
<path d="M572 398.2 L572 402.2 L569.5 402.2 L569.5 404.4" fill="none" stroke="#3a3a3a" stroke-width="0.6" />
<line x1="531.20" y1="399.40" x2="572.00" y2="399.40" stroke="#3a3a3a" stroke-width="0.6" />
<line x1="531.20" y1="402.20" x2="572.00" y2="402.20" stroke="#3a3a3a" stroke-width="0.6" />
<line x1="137.40" y1="133.90" x2="137.40" y2="190.20" stroke="#3a3a3a" stroke-width="0.7" />
<path d="M142.7 133.9 L145.6 133.9 L145.6 132.1 L149.1 132.1" fill="none" stroke="#3a3a3a" stroke-width="0.6" />
<path d="M142.7 190.2 L145.6 190.2 L145.6 192.9 L149.1 192.9" fill="none" stroke="#3a3a3a" stroke-width="0.6" />
<line x1="145.60" y1="133.90" x2="145.60" y2="190.20" stroke="#3a3a3a" stroke-width="0.6" />
<line x1="147.60" y1="132.10" x2="147.60" y2="192.90" stroke="#3a3a3a" stroke-width="0.6" />
<line x1="156.50" y1="132.10" x2="156.50" y2="192.90" stroke="#dcdcdc" stroke-width="0.6" />
<line x1="137.40" y1="265.10" x2="137.40" y2="322.60" stroke="#3a3a3a" stroke-width="0.7" />
<path d="M142.7 265.1 L145.6 265.1 L145.6 262.8 L149.1 262.8" fill="none" stroke="#3a3a3a" stroke-width="0.6" />
<path d="M142.7 322.6 L145.6 322.6 L145.6 325.1 L149.1 325.1" fill="none" stroke="#3a3a3a" stroke-width="0.6" />
<line x1="145.60" y1="265.10" x2="145.60" y2="322.60" stroke="#3a3a3a" stroke-width="0.6" />
<line x1="147.60" y1="262.80" x2="147.60" y2="325.10" stroke="#3a3a3a" stroke-width="0.6" />
<line x1="156.50" y1="262.80" x2="156.50" y2="325.10" stroke="#dcdcdc" stroke-width="0.6" />
<path d="M147.6 134.8 L176.2 134.8 A28.4 28.4 0 0 1 147.8 162.9" fill="none" stroke="#3a3a3a" stroke-width="0.7" />
<path d="M147.6 162.9 L161.6 166.6 L147.6 189.5" fill="none" stroke="#3a3a3a" stroke-width="0.7" stroke-dasharray="6 3"/>
<path d="M147.6 321.7 L175.3 321.7 A28 28 0 0 0 147.8 293.4" fill="none" stroke="#3a3a3a" stroke-width="0.7" />
<path d="M147.6 266 L161.1 290 L147.6 293.2" fill="none" stroke="#3a3a3a" stroke-width="0.7" stroke-dasharray="6 3"/>
<line x1="612.10" y1="217.00" x2="612.10" y2="252.40" stroke="#3a3a3a" stroke-width="0.7" />
<line x1="593.90" y1="214.40" x2="593.90" y2="254.80" stroke="#3a3a3a" stroke-width="0.7" />
<path d="M607 217 L604 217 L604 214.4 L600.3 214.4" fill="none" stroke="#3a3a3a" stroke-width="0.6" />
<path d="M607 252.4 L604 252.4 L604 254.8 L600.3 254.8" fill="none" stroke="#3a3a3a" stroke-width="0.6" />
<line x1="604.00" y1="217.00" x2="604.00" y2="252.40" stroke="#3a3a3a" stroke-width="0.6" />
<line x1="601.60" y1="214.40" x2="601.60" y2="254.80" stroke="#3a3a3a" stroke-width="0.6" />
<line x1="338.30" y1="209.00" x2="338.30" y2="270.00" stroke="#aaa" stroke-width="0.6" />
<line x1="342.60" y1="209.00" x2="342.60" y2="270.00" stroke="#aaa" stroke-width="0.6" />
<path d="M338 209.3 L307 209.3 A30.6 30.6 0 0 0 337.6 239.7" fill="none" stroke="#3a3a3a" stroke-width="0.7" />
<path d="M338 270 L307 270 A30.4 30.4 0 0 1 337.6 239.7" fill="none" stroke="#3a3a3a" stroke-width="0.7" />
<line x1="444.40" y1="202.30" x2="481.60" y2="202.30" stroke="#aaa" stroke-width="0.6" />
<line x1="444.40" y1="207.70" x2="481.60" y2="207.70" stroke="#aaa" stroke-width="0.6" />
<path d="M481 202 L481 166 A36 36 0 0 0 445 202" fill="none" stroke="#3a3a3a" stroke-width="0.7" />
<line x1="488.30" y1="139.60" x2="488.30" y2="176.00" stroke="#aaa" stroke-width="0.6" />
<line x1="492.70" y1="139.60" x2="492.70" y2="176.00" stroke="#aaa" stroke-width="0.6" />
<path d="M493 175.3 L528 175.3 A35.4 35.4 0 0 0 493 140" fill="none" stroke="#3a3a3a" stroke-width="0.7" />
<line x1="496.30" y1="215.00" x2="496.30" y2="246.40" stroke="#aaa" stroke-width="0.6" />
<line x1="500.10" y1="215.00" x2="500.10" y2="246.40" stroke="#aaa" stroke-width="0.6" />
<path d="M500.4 215.3 L532.4 215.3 A31.6 31.6 0 0 1 500.6 246.6" fill="none" stroke="#3a3a3a" stroke-width="0.7" />
<line x1="427.90" y1="312.40" x2="427.90" y2="349.00" stroke="#aaa" stroke-width="0.6" />
<line x1="432.10" y1="312.40" x2="432.10" y2="349.00" stroke="#aaa" stroke-width="0.6" />
<path d="M432.4 312.7 L468.4 312.7 A36 36 0 0 1 432.6 348.8" fill="none" stroke="#3a3a3a" stroke-width="0.7" />
<line x1="334.80" y1="418.90" x2="415.60" y2="418.90" stroke="#3a3a3a" stroke-width="0.7" />
<line x1="334.80" y1="421.20" x2="415.60" y2="421.20" stroke="#3a3a3a" stroke-width="0.7" />
<line x1="334.80" y1="418.90" x2="334.80" y2="421.20" stroke="#3a3a3a" stroke-width="0.6" />
<line x1="376.40" y1="418.90" x2="376.40" y2="421.20" stroke="#3a3a3a" stroke-width="0.6" />
<path d="M413.3 420.6 L413.3 382.6 A37.4 37.4 0 0 0 376.6 420" fill="none" stroke="#3a3a3a" stroke-width="0.7" />
<line x1="322.50" y1="430.20" x2="428.00" y2="430.20" stroke="#3a3a3a" stroke-width="0.8" />
<line x1="335.00" y1="418.00" x2="335.00" y2="430.00" stroke="#3a3a3a" stroke-width="0.8" />
<line x1="415.40" y1="418.00" x2="415.40" y2="430.00" stroke="#3a3a3a" stroke-width="0.8" />
<polygon points="390.80,433.90 400.20,433.90 395.50,426.40" fill="#111" stroke="none" />
<g font-family="'Liberation Sans', sans-serif" fill="#262626" stroke="#262626" stroke-width="0.2" letter-spacing="0.08" opacity="0.99">
<text x="228.50" y="215.60" font-size="10.3" text-anchor="middle">Wohnen/Essen</text>
<text x="229.50" y="226.80" font-size="10.3" text-anchor="middle">35.07 m²</text>
<text x="407.00" y="141.00" font-size="10.3" text-anchor="middle">Küche</text>
<text x="409.00" y="153.00" font-size="10.3" text-anchor="middle">12.26 m²</text>
<text x="537.00" y="135.00" font-size="10.3" text-anchor="middle">HWR</text>
<text x="538.20" y="146.50" font-size="10.3" text-anchor="middle">8.55 m²</text>
<text x="402.60" y="234.00" font-size="10.3" text-anchor="middle">Diele</text>
<text x="404.20" y="245.00" font-size="10.3" text-anchor="middle">15.26 m²</text>
<text x="404.40" y="256.70" font-size="10.3" text-anchor="middle">11.11 m²</text>
<text x="543.50" y="242.00" font-size="10.3" text-anchor="middle">WC/Du</text>
<text x="545.20" y="254.00" font-size="10.3" text-anchor="middle">4.87 m²</text>
<text x="495.70" y="325.60" font-size="10.3" text-anchor="middle">Büro</text>
<text x="497.20" y="337.50" font-size="10.3" text-anchor="middle">9.90 m²</text>
<text x="374.00" y="442.00" font-size="10.3" text-anchor="middle">überd. Eingang</text>
<text x="375.50" y="454.00" font-size="10.3" text-anchor="middle">1.63 m²</text>
</g>
</svg>
</body></html>
